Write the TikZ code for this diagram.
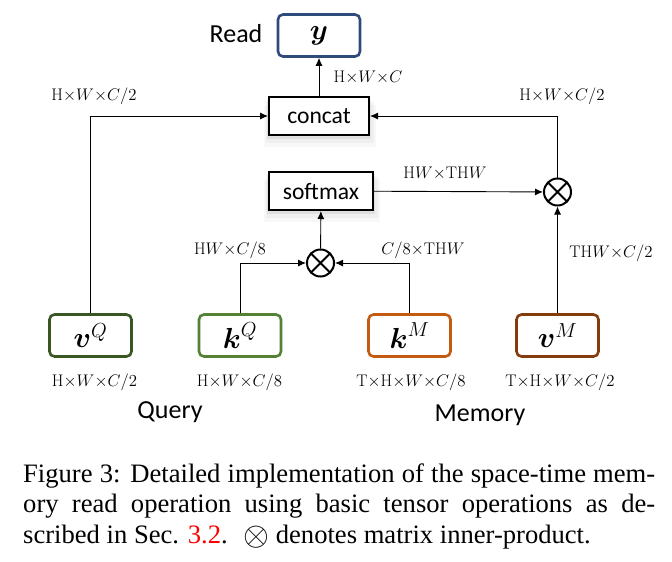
\RequirePackage{fix-cm}
\documentclass[tikz,border=0pt]{standalone}
\usepackage{amsmath}
\usepackage{fontspec}
\usetikzlibrary{arrows.meta,shadows}
\newfontfamily\calfont{Carlito}
\newfontfamily\capfont{Liberation Serif}
\definecolor{ycol}{HTML}{2F4B7C}
\definecolor{vqcol}{HTML}{385723}
\definecolor{kqcol}{HTML}{548235}
\definecolor{kmcol}{HTML}{C55A11}
\definecolor{vmcol}{HTML}{843C0C}
\newcommand{\dimsz}{\fontsize{16.8}{18}\selectfont}
\newcommand{\capsz}{\capfont\fontsize{26.6}{30}\selectfont}
\begin{document}
\begin{tikzpicture}[x=1pt,y=-1pt,
  box/.style={draw,fill=white,rounded corners=5pt,line width=2.6pt,
    minimum width=82pt,minimum height=42pt,inner sep=0pt,
    font=\fontsize{29}{30}\selectfont},
  op/.style={draw,fill=white,line width=2pt,minimum height=38pt,inner sep=0pt,
    font=\calfont\fontsize{23.6}{26}\selectfont,
    drop shadow={shadow xshift=0pt,shadow yshift=-3pt,shadow scale=1.04,opacity=0.12},
    drop shadow={shadow xshift=1pt,shadow yshift=-6pt,shadow scale=1.08,opacity=0.08},
    drop shadow={shadow xshift=1pt,shadow yshift=-9pt,shadow scale=1.12,opacity=0.05}},
  mul/.style={circle,draw,line width=2pt,minimum size=27pt,inner sep=0pt,
    path picture={\draw[line width=2pt]
      (path picture bounding box.north west) -- (path picture bounding box.south east)
      (path picture bounding box.south west) -- (path picture bounding box.north east);}},
  dim/.style={font=\dimsz,inner sep=0pt},
  word/.style={font=\calfont\fontsize{26}{28}\selectfont,inner sep=0pt},
  arr/.style={-{Latex[length=8pt,width=7pt]},line width=0.9pt}]

  \path[fill=white] (0,0) rectangle (672,562);

  % operations
  \node[box,draw=ycol] (y) at (319,35.5) {$\boldsymbol{y}$};
  \node[op,minimum width=100pt] (concat) at (319,116) {concat};
  \node[op,minimum width=104pt] (softmax) at (321,191) {softmax};
  \node[mul] (m1) at (320.5,263) {};
  \node[mul] (m2) at (557.5,192) {};

  % query and memory
  \node[box,draw=vqcol] (vq) at (90.5,335.5) {$\boldsymbol{v}^{Q}$};
  \node[box,draw=kqcol] (kq) at (240,335.5) {$\boldsymbol{k}^{Q}$};
  \node[box,draw=kmcol] (km) at (409.5,335.5) {$\boldsymbol{k}^{M}$};
  \node[box,draw=vmcol] (vm) at (557.5,335.5) {$\boldsymbol{v}^{M}$};

  \node[word] (read) at (236,34) {Read};
  \node[word] (query) at (170,412) {Query};
  \node[word] (memory) at (480,415) {Memory};

  % sizes
  \node[dim] (dy) at (368,77) {$\mathrm{H}{\times}W{\times}C$};
  \node[dim] (dvq) at (94,96) {$\mathrm{H}{\times}W{\times}C/2$};
  \node[dim] (dm2) at (562,96) {$\mathrm{H}{\times}W{\times}C/2$};
  \node[dim] (dsm) at (445,173) {$\mathrm{H}W{\times}\mathrm{TH}W$};
  \node[dim] (dkq) at (230,250) {$\mathrm{H}W{\times}C/8$};
  \node[dim] (dkm) at (423,250) {$C/8{\times}\mathrm{TH}W$};
  \node[dim] (dvm) at (611,253) {$\mathrm{TH}W{\times}C/2$};
  \node[dim] (svq) at (94.5,382) {$\mathrm{H}{\times}W{\times}C/2$};
  \node[dim] (skq) at (239.5,382) {$\mathrm{H}{\times}W{\times}C/8$};
  \node[dim] (skm) at (411,382) {$\mathrm{T}{\times}\mathrm{H}{\times}W{\times}C/8$};
  \node[dim] (svm) at (560,382) {$\mathrm{T}{\times}\mathrm{H}{\times}W{\times}C/2$};

  % connections
  \draw[arr] (concat) -- (y);
  \draw[arr] (vq) |- (concat);
  \draw[arr] (m2) |- (concat);
  \draw[arr] (softmax) -- (m2);
  \draw[arr] (m1) -- (softmax);
  \draw[arr] (kq) |- (m1);
  \draw[arr] (km) |- (m1);
  \draw[arr] (vm) -- (m2);

  % caption
  \node[anchor=base west,inner sep=0pt] (cap1) at (23,482)
    {\capsz\makebox[632pt][s]{Figure 3: Detailed implementation of the space-time mem-}};
  \node[anchor=base west,inner sep=0pt] (cap2) at (23,512.5)
    {\capsz\makebox[632pt][s]{ory read operation using basic tensor operations as de-}};
  \node[anchor=base west,inner sep=0pt] (cap3) at (23,543)
    {\capsz scribed in Sec. \textcolor{red}{3.2}. \ \smash{\raisebox{-2.5pt}{\scalebox{1.25}{$\otimes$}}} denotes matrix inner-product.};

\end{tikzpicture}
\end{document}
